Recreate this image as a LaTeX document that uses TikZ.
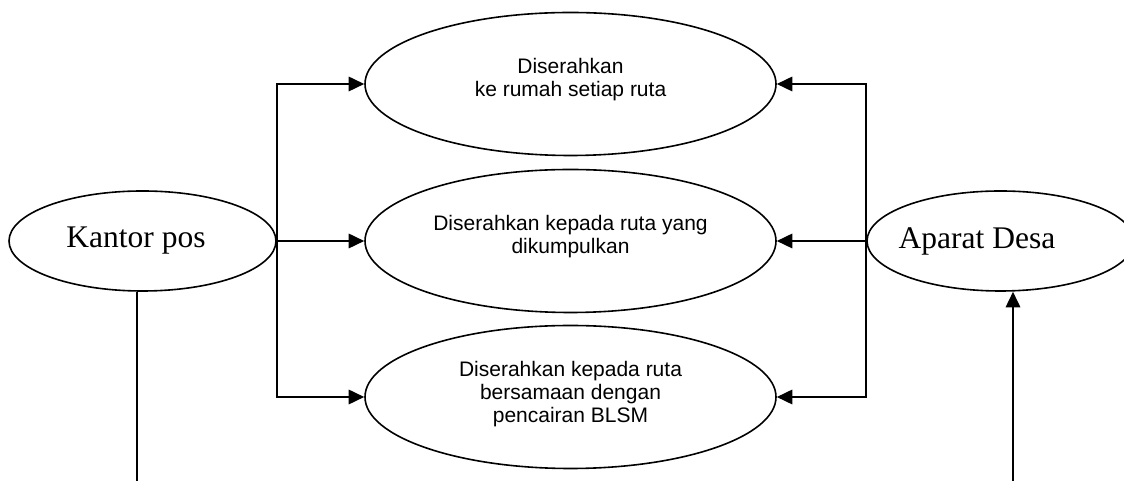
\documentclass[tikz,border=0pt]{standalone}
\usepackage{fontspec}
\setmainfont{Liberation Serif}
\newfontfamily\sansf{Liberation Sans}
\usetikzlibrary{arrows.meta,shapes.geometric}
\tikzset{
  actor/.style={draw, line width=1.6pt, ellipse, minimum width=267pt, minimum height=100pt, inner sep=0pt},
  actortext/.style={font=\fontsize{31.5}{36}\selectfont},
  usecase/.style={draw, line width=1.6pt, ellipse, minimum width=411pt, minimum height=143pt, inner sep=0pt},
  uctext/.style={font=\sansf\fontsize{21}{23}\selectfont, align=center},
  conn/.style={line width=1.7pt},
  arr/.style={conn, -{Triangle[length=15.5pt,width=14.5pt]}}
}
\begin{document}
\begin{tikzpicture}[x=1pt,y=1pt]
\clip (0,0) rectangle (1124,481);
\useasboundingbox (0,0) rectangle (1124,481);
\node[actor] (kp) at (142.5,240) {};
\node[actortext] (kpt) at (136,240) {Kantor pos};
\node[actor] (ad) at (1000.5,240) {};
\node[actortext] (adt) at (977,240) {Aparat Desa};
\node[usecase] (e1) at (570.5,397) {};
\node[uctext] (e1t) at (570.5,401) {Diserahkan\\ke rumah setiap ruta};
\node[usecase] (e2) at (570.5,240) {};
\node[uctext] (e2t) at (570.5,244) {Diserahkan kepada ruta yang\\dikumpulkan};
\node[usecase] (e3) at (570.5,84) {};
\node[uctext] (e3t) at (570.5,87) {Diserahkan kepada ruta\\bersamaan dengan\\pencairan BLSM};
\draw[arr] (kp.east) |- (e1.west);
\draw[arr] (kp.east) -- (e2.west);
\draw[arr] (kp.east) |- (e3.west);
\draw[arr] (ad.west) |- (e1.east);
\draw[arr] (ad.west) -- (e2.east);
\draw[arr] (ad.west) |- (e3.east);
\coordinate (kpb) at (137,0);
\coordinate (adb) at (1013,0);
\draw[conn] (kp.south -| kpb) -- (kpb);
\draw[arr] (adb) -- (adb |- ad.south);
\end{tikzpicture}
\end{document}
